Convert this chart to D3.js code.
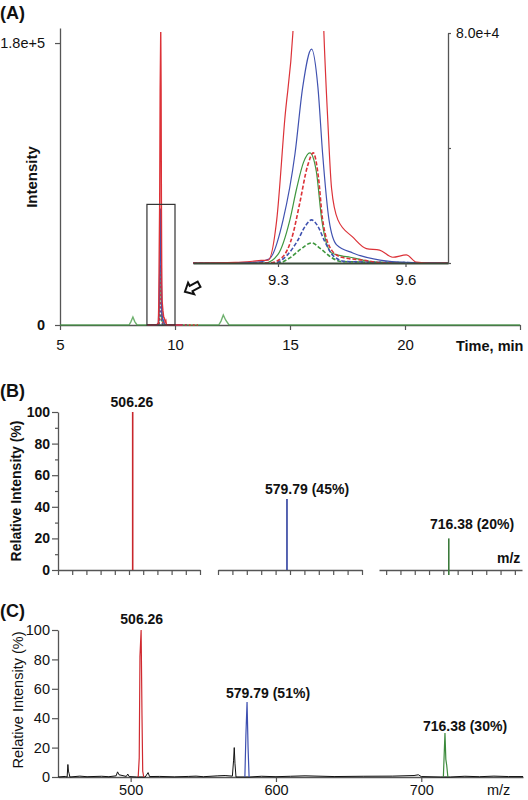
<!DOCTYPE html>
<html><head><meta charset="utf-8">
<script src="https://cdn.jsdelivr.net/npm/d3@7"></script>
<style>body{margin:0;background:#fff}svg{display:block}</style>
</head><body>
<svg id="c" width="528" height="800"></svg>
<script>
// ================= DATA =================
// Panel A: extracted-ion chromatograms, [time (min), intensity (x1000 counts)]
const timeTicks = [5, 10, 15, 20, 25];
const intensityTicks = [0, 180];
const intensityTickLabels = ["0", "1.8e+5"];
const insetTimeTicks = [9.3, 9.6];
const insetIntensityTicks = [0, 40, 80];
const insetTopLabel = "8.0e+4";
const boxTime = [8.78, 10.0];
const boxIntensity = 77;

const redSolid = [[8.8,0],[9.1,0],[9.2,0.2],[9.24,0.6],[9.26,0.9],[9.277,1],[9.297,15],[9.316,50],[9.335,80],[9.355,150],[9.38,187],[9.395,150],[9.408,80],[9.417,50],[9.426,26],[9.441,15],[9.476,9],[9.508,5],[9.539,4.5],[9.57,2],[9.602,2.8],[9.626,0.3],[9.66,0],[9.7,0],[10.3,0]];
const blueSolid = [[8.8,0],[9.1,0],[9.25,0.3],[9.28,1.5],[9.312,15],[9.34,38],[9.358,61],[9.379,74.4],[9.394,61],[9.405,38],[9.42,15],[9.438,6.3],[9.476,3.5],[9.54,1],[9.6,0.2],[9.7,0],[10.3,0]];
const greenSolid = [[5,0],[8.0,0],[8.08,2],[8.17,5.1],[8.25,2.2],[8.35,0],[9.1,0],[9.27,0],[9.3,3],[9.328,15],[9.344,26],[9.36,35],[9.375,38.3],[9.39,32],[9.403,15],[9.426,3.5],[9.45,2.5],[9.47,2],[9.5,1],[9.55,0],[9.7,0],[11.9,0],[12.0,2.5],[12.1,6.4],[12.2,3.2],[12.35,0],[25,0]];
const redDashed = [[8.8,0],[9.1,0],[9.28,0],[9.31,2],[9.335,10],[9.35,20],[9.37,34],[9.383,38.3],[9.395,30],[9.405,15],[9.427,4.3],[9.45,2],[9.5,1],[9.55,0],[9.7,0],[11.0,0]];
const blueDashed = [[8.8,0],[9.1,0],[9.29,0],[9.32,2.5],[9.345,7.5],[9.365,13],[9.379,15],[9.393,13],[9.41,7.5],[9.43,2.5],[9.46,0.5],[9.7,0],[10.6,0]];
const greenDashed = [[8.8,0],[9.1,0],[9.3,0],[9.33,2],[9.355,5],[9.379,7],[9.4,5],[9.425,2],[9.45,0.5],[9.7,0],[10.6,0]];

// Panel B: theoretical spectra (three m/z windows)
const bWindows = [[501, 511], [575, 585], [711.5, 721.5]];
const bMz = [506.26, 579.79, 716.38];
const bIntensity = [100, 45, 20];
const bLabels = ["506.26", "579.79 (45%)", "716.38 (20%)"];
const relTicks = [0, 20, 40, 60, 80, 100];
const relMinorTicks = [10, 30, 50, 70, 90];

// Panel C: measured spectrum, [m/z, relative intensity %]
const mzTicks = [500, 600, 700];
const cRedProfile = [[505.2,0],[505.9,13],[506.4,82],[507.2,100],[507.8,42],[508.3,4],[509,0]];
const cBlueProfile = [[578.6,0],[579.3,28],[580.1,51],[580.8,20],[581.5,0]];
const cGreenProfile = [[715.2,0],[716.3,30],[716.9,12],[717.5,8],[718.3,0]];
const cBlackTrace = [[450,0],[455,0.4],[456.3,0],[456.8,8.5],[457.2,4],[457.6,2.5],[458.2,0],[465,0.6],[470,0.2],[480,0.5],[485,0.2],[490,0.8],[491,3.5],[492,1.5],[497,0.4],[498,2],[499,0.3],[504,0],[510,0],[512,3],[513,0.3],[520,0.4],[530,0.1],[540,0.4],[545,0.6],[550,0.2],[560,0.8],[565,1],[570,0.6],[570.8,11],[571.3,20],[571.8,9],[572.5,0],[578,0],[582,0],[590,0.5],[600,0.2],[610,0.5],[620,0.8],[640,0.3],[660,0.5],[680,0.6],[695,1],[698,1.5],[700,0.3],[713,0],[720,0],[730,0.5],[740,0.2],[750,0.6],[760,0.3],[770,0.3]];
const cLabels = ["506.26", "579.79 (51%)", "716.38 (30%)"];
const cLabelMz = [506.26, 579.79, 716.38];

// ================= DRAW =================
const F = '"Liberation Sans", Arial, Helvetica, sans-serif';
const AX = '#555';
const svg = d3.select('#c');

function styleAxis(g, size, weight) {
  g.attr('font-family', F).attr('font-size', size);
  g.select('.domain').attr('stroke', AX).attr('stroke-width', 1.3);
  g.selectAll('.tick line').attr('stroke', AX).attr('stroke-width', 1.2);
  g.selectAll('.tick text').attr('fill', '#111').attr('font-weight', weight || 'normal');
}
function txt(x, y, s, size, weight, anchor, rot) {
  const t = svg.append('text').attr('x', x).attr('y', y).text(s)
    .attr('font-family', F).attr('font-size', size).attr('font-weight', weight || 'normal')
    .attr('fill', '#111').attr('text-anchor', anchor || 'start');
  if (rot) t.attr('transform', `rotate(${rot},${x},${y})`);
  return t;
}

// ---------- Panel A ----------
const RED = '#dc3238', BLUE = '#4052b0', GREEN = '#3f973f';
const xA = d3.scaleLinear().domain([5, 25]).range([60, 520]);
const yA = d3.scaleLinear().domain([0, 189.6]).range([325, 28]);

const series = [
  {d: greenSolid, c: GREEN, dash: null},
  {d: greenDashed, c: GREEN, dash: '4,2'},
  {d: blueDashed, c: BLUE, dash: '4,2'},
  {d: redDashed, c: RED, dash: '4,2'},
  {d: blueSolid, c: BLUE, dash: null},
  {d: redSolid, c: RED, dash: null}
];

const gxA = svg.append('g').attr('transform', 'translate(0,325)')
  .call(d3.axisBottom(xA).tickValues(timeTicks).tickSize(5).tickSizeOuter(0).tickPadding(9)
    .tickFormat(d => d === 25 ? '' : d));
styleAxis(gxA, 15);
const gyA = svg.append('g').attr('transform', 'translate(60,0)')
  .call(d3.axisLeft(yA).tickValues(intensityTicks).tickSize(5).tickSizeOuter(0).tickPadding(10)
    .tickFormat((d, i) => intensityTickLabels[i]));
styleAxis(gyA, 14.5);
gyA.selectAll('.tick text').attr('font-weight', (d) => d === 0 ? 'bold' : 'normal');

const lineA = d3.line().x(d => xA(d[0])).y(d => yA(d[1]));
series.forEach(s => {
  svg.append('path').attr('d', lineA(s.d)).attr('fill', 'none').attr('stroke', s.c)
    .attr('stroke-width', s.dash ? 1.3 : 1.4).attr('stroke-dasharray', s.dash ? '2,2' : null)
    .attr('opacity', s.d === greenSolid ? 0.75 : 1);
});

svg.append('rect').attr('x', xA(boxTime[0])).attr('y', yA(boxIntensity))
  .attr('width', xA(boxTime[1]) - xA(boxTime[0])).attr('height', yA(0) - yA(boxIntensity))
  .attr('fill', 'none').attr('stroke', '#333').attr('stroke-width', 1.2);

txt(0, 19, '(A)', 18, 'bold');
txt(37, 177, 'Intensity', 15, 'bold', 'middle', -90);
txt(456, 351, 'Time, min', 14.5, 'bold');

// arrow
svg.append('path').attr('transform', 'translate(192,288) rotate(-28)')
  .attr('d', 'M-8,0 L-1,-6.5 L-1,-3 L8,-3 L8,3 L-1,3 L-1,6.5 Z')
  .attr('fill', '#fff').attr('stroke', '#111').attr('stroke-width', 2).attr('stroke-linejoin', 'miter');

// inset
const xI = d3.scaleLinear().domain([9.1, 9.7]).range([193, 448]);
const yI = d3.scaleLinear().domain([0, 80]).range([263, 33]);
svg.append('clipPath').attr('id', 'ic').append('rect').attr('x', 193).attr('y', 31).attr('width', 255).attr('height', 233);
const lineI = d3.line().x(d => xI(d[0])).y(d => yI(d[1])).curve(d3.curveMonotoneX);
const gi = svg.append('g').attr('clip-path', 'url(#ic)');
series.forEach(s => {
  gi.append('path').attr('d', lineI(s.d.filter(p => p[0] >= 9.1 && p[0] <= 9.7)))
    .attr('fill', 'none').attr('stroke', s.c).attr('stroke-width', s.dash ? 1.6 : 1.2)
    .attr('stroke-dasharray', s.dash);
});
const gxI = svg.append('g').attr('transform', 'translate(0,263)')
  .call(d3.axisBottom(xI).tickValues(insetTimeTicks).tickSize(4).tickSizeOuter(0).tickPadding(7).tickFormat(d3.format('.1f')));
styleAxis(gxI, 15);
gxI.select('.domain').attr('stroke', '#3a4a3a').attr('stroke-width', 2.2);
const gyI = svg.append('g').attr('transform', 'translate(448,0)')
  .call(d3.axisRight(yI).tickValues(insetIntensityTicks).tickSize(3).tickSizeOuter(0).tickPadding(5)
    .tickFormat(d => d === 80 ? insetTopLabel : ''));
styleAxis(gyI, 14);

// ---------- Panel B ----------
const yB = d3.scaleLinear().domain([0, 100]).range([570, 412]);
const bColors = ['#c8262c', '#2e3f9e', '#3b7a3b'];
const gyB = svg.append('g').attr('transform', 'translate(58,0)')
  .call(d3.axisLeft(yB).tickValues(relTicks).tickSize(6).tickSizeOuter(0).tickPadding(2));
styleAxis(gyB, 14, 'bold');
const gyBm = svg.append('g').attr('transform', 'translate(58,0)')
  .call(d3.axisLeft(yB).tickValues(relMinorTicks).tickSize(3).tickSizeOuter(0).tickFormat(''));
styleAxis(gyBm, 14); gyBm.select('.domain').remove();

const bRanges = [[58, 200], [218, 362], [379, 522]];
bWindows.forEach((w, i) => {
  const sx = d3.scaleLinear().domain(w).range(bRanges[i]);
  const tv = d3.range(Math.ceil(w[0]), Math.floor(w[1]) + 1);
  const g = svg.append('g').attr('transform', 'translate(0,570)')
    .call(d3.axisBottom(sx).tickValues(tv).tickSize(5).tickSizeOuter(0).tickFormat(''));
  styleAxis(g, 12);
  svg.append('line').attr('x1', sx(bMz[i])).attr('x2', sx(bMz[i]))
    .attr('y1', yB(0) + (i === 2 ? 5 : 0)).attr('y2', yB(bIntensity[i]))
    .attr('stroke', bColors[i]).attr('stroke-width', 1.6);
});
txt(132, 407, bLabels[0], 14, 'bold', 'middle');
txt(265, 494, bLabels[1], 14, 'bold');
txt(430, 529, bLabels[2], 14, 'bold');
txt(497, 563, 'm/z', 14, 'bold');
txt(0, 397, '(B)', 18, 'bold');
txt(21, 491, 'Relative Intensity (%)', 14, 'bold', 'middle', -90);

// ---------- Panel C ----------
const xC = d3.scaleLinear().domain([450, 770]).range([58, 523]);
const yC = d3.scaleLinear().domain([0, 100]).range([777, 630]);
const gxC = svg.append('g').attr('transform', 'translate(0,777)')
  .call(d3.axisBottom(xC).tickValues(mzTicks).tickSize(5).tickSizeOuter(0).tickPadding(3));
styleAxis(gxC, 14.5);
const gyC = svg.append('g').attr('transform', 'translate(58,0)')
  .call(d3.axisLeft(yC).tickValues(relTicks).tickSize(6).tickSizeOuter(0).tickPadding(2));
styleAxis(gyC, 14.5);
const lineC = d3.line().x(d => xC(d[0])).y(d => yC(d[1]));
svg.append('path').attr('d', lineC(cBlackTrace)).attr('fill', 'none').attr('stroke', '#111').attr('stroke-width', 1);
[[cRedProfile, '#d02a30'], [cBlueProfile, '#3d4fb0'], [cGreenProfile, '#3c8a3c']].forEach(([p, c]) => {
  svg.append('path').attr('d', lineC(p)).attr('fill', 'none').attr('stroke', c).attr('stroke-width', 1.2);
});
txt(xC(cLabelMz[0]) + 2, 624, cLabels[0], 14, 'bold', 'middle');
txt(226, 698, cLabels[1], 14, 'bold');
txt(423, 731, cLabels[2], 14, 'bold');
txt(487, 795, 'm/z', 14.5);
txt(0, 617, '(C)', 18, 'bold');
txt(23, 700, 'Relative Intensity (%)', 14.5, 'normal', 'middle', -90);
</script>
</body></html>
